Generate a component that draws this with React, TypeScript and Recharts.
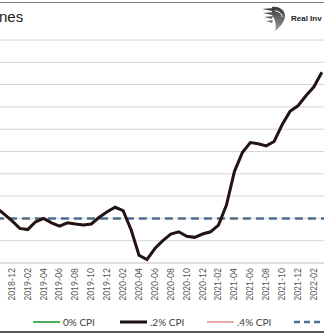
import React from 'react';
import { LineChart, Line, XAxis, YAxis, CartesianGrid } from 'recharts';

const months = [
  '2018-10', '2018-11', '2018-12',
  '2019-01', '2019-02', '2019-03', '2019-04', '2019-05', '2019-06',
  '2019-07', '2019-08', '2019-09', '2019-10', '2019-11', '2019-12',
  '2020-01', '2020-02', '2020-03', '2020-04', '2020-05', '2020-06',
  '2020-07', '2020-08', '2020-09', '2020-10', '2020-11', '2020-12',
  '2021-01', '2021-02', '2021-03', '2021-04', '2021-05', '2021-06',
  '2021-07', '2021-08', '2021-09', '2021-10', '2021-11', '2021-12',
  '2022-01', '2022-02', '2022-03', '2022-04', '2022-05', '2022-06',
];

// .2% CPI line (history part visible in the crop)
const cpi = [
  2.5, 2.2, 1.9,
  1.55, 1.5, 1.85, 2.0, 1.8, 1.65,
  1.8, 1.75, 1.7, 1.75, 2.05, 2.3,
  2.5, 2.35, 1.5, 0.35, 0.15, 0.65,
  1.0, 1.3, 1.4, 1.2, 1.15, 1.3,
  1.4, 1.7, 2.6, 4.1, 4.95, 5.4,
  5.35, 5.25, 5.45, 6.2, 6.8, 7.05,
  7.5, 7.9, 8.55, null, null, null,
];

const target = months.map(() => 2);

const tickLabels = [
  '2018-12', '2019-02', '2019-04', '2019-06', '2019-08', '2019-10', '2019-12',
  '2020-02', '2020-04', '2020-06', '2020-08', '2020-10', '2020-12',
  '2021-02', '2021-04', '2021-06', '2021-08', '2021-10', '2021-12',
  '2022-02',
];

const yTicks = [0, 1, 2, 3, 4, 5, 6, 7, 8, 9, 10];

const legendItems = [
  { label: 'CPI', color: '#ed7d31', dash: false, width: 2 },
  { label: '0% CPI', color: '#4caf5a', dash: false, width: 2 },
  { label: '.2% CPI', color: '#1a1010', dash: false, width: 3 },
  { label: '.4% CPI', color: '#e8aaa8', dash: false, width: 2 },
  { label: '', color: '#4e6d8d', dash: true, width: 2.5 },
];

const data = months.map((m, i) => ({ month: m, cpi: cpi[i], target: target[i] }));

function DateTick(props: any) {
  const { x, payload } = props;
  const y = 268;
  return (
    <text
      x={x}
      y={y}
      dy="0.35em"
      textAnchor="end"
      transform={`rotate(-90 ${x} ${y})`}
      fontSize={8.5}
      fill="#595959"
      fontFamily="Lato, sans-serif"
    >
      {payload.value}
    </text>
  );
}

function Logo() {
  return (
    <svg width={26} height={27} style={{ position: 'absolute', left: 261, top: 5 }}>
      <defs>
        <linearGradient id="lg" x1="0" y1="0" x2="0" y2="1">
          <stop offset="0" stopColor="#3a3a3a" />
          <stop offset="1" stopColor="#9a9a9a" />
        </linearGradient>
      </defs>
      <path d="M1 4 L12 3 L11 6 Z" fill="#444" />
      <path d="M2 8 L12 7 L11 10 Z" fill="#555" />
      <path d="M3 12 L12 11 L11 14 Z" fill="#666" />
      <path d="M5 16 L12 15 L11 18 Z" fill="#777" />
      <path d="M11 2 C17 1 23 4 24 10 C24 17 19 22 14 26 C16 20 14 14 11 10 Z" fill="url(#lg)" />
      <path d="M14 6 C18 6 21 9 21 12" stroke="#fff" strokeWidth={1} fill="none" />
    </svg>
  );
}

// horizontal gridlines at every y tick, placed through the y axis scale
const gridRows = ({ yAxis, offset }: any) =>
  yTicks.map((v) =>
    yAxis && typeof yAxis.scale === 'function' ? yAxis.scale(v) : offset.top + offset.height * (1 - v / 10)
  );

export default function App() {
  return (
    <div
      style={{
        position: 'fixed',
        left: 0,
        top: 0,
        width: 324,
        height: 334,
        overflow: 'hidden',
        background: '#fff',
        fontFamily: 'Lato, sans-serif',
      }}
    >
      <div style={{ position: 'absolute', left: 0, top: 2, width: 324, height: 1, background: '#7a7a7a' }} />
      <div
        style={{
          position: 'absolute',
          left: -1,
          top: 8,
          fontSize: 15,
          color: '#222',
          fontFamily: '"Liberation Sans", Arial, sans-serif',
        }}
      >
        nes
      </div>
      <Logo />
      <div
        style={{
          position: 'absolute',
          left: 291,
          top: 14,
          fontSize: 8,
          fontWeight: 700,
          color: '#222',
          whiteSpace: 'nowrap',
          fontFamily: '"Liberation Sans", Arial, sans-serif',
        }}
      >
        Real Inv
      </div>

      <div style={{ position: 'absolute', left: -20, top: 0 }}>
        <LineChart width={376} height={300} data={data} margin={{ top: 40, right: 10.3, left: 15.9, bottom: 0 }}>
          <CartesianGrid
            horizontal
            vertical={false}
            stroke="#d6d6d6"
            horizontalCoordinatesGenerator={gridRows}
          />
          <XAxis
            dataKey="month"
            ticks={tickLabels}
            interval={0}
            height={37}
            tick={<DateTick />}
            tickLine={false}
            axisLine={{ stroke: '#d4d4d4' }}
          />
          <YAxis
            domain={[0, 10]}
            ticks={yTicks}
            interval={0}
            width={0}
            tick={false}
            tickLine={false}
            axisLine={false}
          />
          <Line
            dataKey="target"
            stroke="#4e6d8d"
            strokeWidth={2.5}
            strokeDasharray="8 5"
            dot={false}
            isAnimationActive={false}
          />
          <Line
            dataKey="cpi"
            stroke="#231313"
            strokeWidth={3}
            dot={false}
            connectNulls={false}
            isAnimationActive={false}
          />
        </LineChart>
      </div>

      <div style={{ position: 'absolute', left: -54, top: 316, display: 'flex' }}>
        {legendItems.map((it, i) => (
          <div key={i} style={{ width: 87, display: 'flex', alignItems: 'center', height: 12 }}>
            <svg width={27} height={4} style={{ flex: 'none' }}>
              <line
                x1={0}
                y1={2}
                x2={27}
                y2={2}
                stroke={it.color}
                strokeWidth={it.width}
                strokeDasharray={it.dash ? '6 4' : undefined}
              />
            </svg>
            <span style={{ marginLeft: 3, fontSize: 10, color: '#404040', whiteSpace: 'nowrap' }}>{it.label}</span>
          </div>
        ))}
      </div>

      <div style={{ position: 'absolute', left: 0, top: 331, width: 324, height: 2, background: '#555' }} />
    </div>
  );
}
